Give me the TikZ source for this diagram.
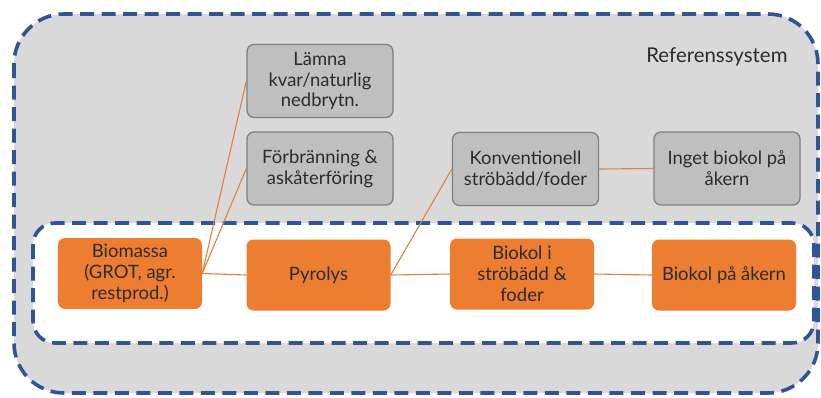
\documentclass[tikz,border=0pt]{standalone}
\usepackage{fontspec}
\setmainfont{Lato}
\definecolor{frameblue}{HTML}{2F5597}
\definecolor{panelgray}{HTML}{D9D9D9}
\definecolor{boxgray}{HTML}{BFBFBF}
\definecolor{boxedge}{HTML}{808080}
\definecolor{procorange}{HTML}{ED7D31}
\definecolor{linkorange}{HTML}{E0803C}
\definecolor{txt}{HTML}{2B2B2B}
\begin{document}
\begin{tikzpicture}[x=1bp,y=-1bp,
  every node/.style={font=\fontsize{18.5}{21}\selectfont,text=txt,align=center},
  frame/.style={draw=frameblue,line width=3.6bp,dash pattern=on 14bp off 7.5bp},
  altbox/.style={draw=boxedge,fill=boxgray,line width=1.3bp,rounded corners=7bp,
    minimum width=146bp,minimum height=73bp,inner sep=1bp},
  procbox/.style={fill=procorange,rounded corners=7bp,
    minimum width=144bp,minimum height=71bp,inner sep=1bp},
  link/.style={draw=linkorange,line width=1.1bp}]
  \useasboundingbox (0,0) rectangle (821,397);
  % outer reference system
  \draw[frame,fill=panelgray,rounded corners=50bp] (14,14) rectangle (818,393);
  \node[anchor=east,font=\fontsize{20.5}{24}\selectfont] (refsys) at (791,57) {Referenssystem};
  % inner biochar system
  \draw[frame,fill=white,rounded corners=22bp] (33,223) rectangle (814,343);
  % process chain
  \node[procbox] (bio) at (130,273.5) {Biomassa\\(GROT, agr.\\restprod.)};
  \node[procbox] (pyr) at (318.5,275) {Pyrolys};
  \node[procbox] (strob) at (522,274) {Biokol i\\ströbädd \&\\foder};
  \node[procbox] (aker) at (724,275) {Biokol på åkern};
  % reference alternatives
  \node[altbox] (lamna) at (320,81) {Lämna\\kvar/naturlig\\nedbrytn.};
  \node[altbox] (forbr) at (320,168.5) {Förbränning \&\\askåterföring};
  \node[altbox] (konv) at (525.5,169) {Konventionell\\ströbädd/foder};
  \node[altbox] (inget) at (727,168.5) {Inget biokol på\\åkern};
  % connectors
  \draw[link] (bio.east) -- (lamna.west);
  \draw[link] (bio.east) -- (forbr.west);
  \draw[link] (bio.east) -- (pyr.west);
  \draw[link] (pyr.east) -- (konv.west);
  \draw[link] (pyr.east) -- (strob.west);
  \draw[link] (strob.east) -- (aker.west);
  \draw[link] (konv.east) -- (inget.west);
\end{tikzpicture}
\end{document}
